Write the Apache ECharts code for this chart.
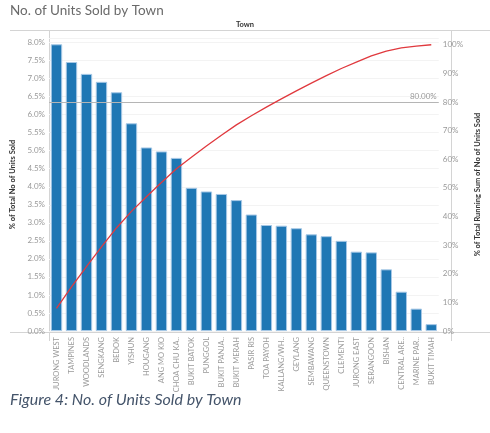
<!DOCTYPE html>
<html>
<head>
<meta charset="utf-8">
<script src="https://cdn.jsdelivr.net/npm/echarts@6/dist/echarts.min.js"></script>
<style>html,body{margin:0;padding:0;background:#fff}#c{width:490px;height:433px}</style>
</head>
<body>
<div id="c"></div>
<script>
var towns = ["JURONG WEST","TAMPINES","WOODLANDS","SENGKANG","BEDOK","YISHUN","HOUGANG","ANG MO KIO","CHOA CHU KA..","BUKIT BATOK","PUNGGOL","BUKIT PANJA..","BUKIT MERAH","PASIR RIS","TOA PAYOH","KALLANG/WH..","GEYLANG","SEMBAWANG","QUEENSTOWN","CLEMENTI","JURONG EAST","SERANGOON","BISHAN","CENTRAL ARE..","MARINE PAR..","BUKIT TIMAH"];
var pctOfTotal = [7.95,7.46,7.13,6.91,6.62,5.76,5.09,4.98,4.80,3.97,3.87,3.80,3.63,3.23,2.94,2.92,2.85,2.68,2.63,2.50,2.20,2.18,1.71,1.09,0.62,0.19];
var runningPct = [7.9,15.4,22.5,29.4,36.0,41.8,46.9,51.9,56.7,60.7,64.6,68.4,72.0,75.2,78.2,81.1,83.9,86.6,89.2,91.7,93.9,96.1,97.8,98.9,99.5,100.0];
var leftTicks = ["0.0%","0.5%","1.0%","1.5%","2.0%","2.5%","3.0%","3.5%","4.0%","4.5%","5.0%","5.5%","6.0%","6.5%","7.0%","7.5%","8.0%"];
var rightTicks = ["0%","10%","20%","30%","40%","50%","60%","70%","80%","90%","100%"];
var refValue = 80;

var chart = echarts.init(document.getElementById('c'), null, {renderer:'canvas'});
var fontF = 'Lato, "Open Sans", sans-serif';
chart.setOption({
  animation:false,
  backgroundColor:'#fff',
  textStyle:{fontFamily:fontF},
  grid:{left:49, right:39, top:38, bottom:102, containLabel:false},
  graphic:[
    {type:'text', left:10, top:4, style:{text:'No. of Units Sold by Town', font:'13.5px Lato, sans-serif', fill:'#6a6a6a'}},
    {type:'text', left:'center', top:21, style:{text:'Town', font:'bold 7.5px Lato, sans-serif', fill:'#333', x:6}},
    {type:'line', shape:{x1:10,y1:30.5,x2:490,y2:30.5}, style:{stroke:'#d4d4d4', lineWidth:1}},
    {type:'line', shape:{x1:49.5,y1:30,x2:49.5,y2:341}, style:{stroke:'#d4d4d4', lineWidth:1}},
    {type:'line', shape:{x1:451.5,y1:30,x2:451.5,y2:341}, style:{stroke:'#d4d4d4', lineWidth:1}},
    {type:'line', shape:{x1:10,y1:332.5,x2:490,y2:332.5}, style:{stroke:'#d4d4d4', lineWidth:1}},
    {type:'text', left:10, top:392, style:{text:'Figure 4: No. of Units Sold by Town', font:'italic 16px Lato, sans-serif', fill:'#44546a'}}
  ],
  xAxis:{
    type:'category', data:towns,
    axisLine:{show:false}, axisTick:{show:false},
    axisLabel:{rotate:90, fontSize:7.5, color:'#999', margin:6, interval:0}
  },
  yAxis:[
    {type:'value', min:0, max:8.125, interval:0.5, position:'left',
     name:'% of Total No of Units Sold', nameLocation:'middle', nameGap:30, nameRotate:90,
     nameTextStyle:{fontSize:7.5, fontWeight:'bold', color:'#333'},
     axisLine:{show:false}, axisTick:{show:false},
     axisLabel:{showMaxLabel:false, fontSize:8, color:'#999', margin:4,
       formatter:function(v){var i=Math.round(v/0.5); return leftTicks[i]||'';}},
     splitLine:{show:true, lineStyle:{color:'#f3f3f3', width:1}}},
    {type:'value', min:0, max:102.36, interval:10, position:'right',
     name:'% of Total Running Sum of No of Units Sold', nameLocation:'middle', nameGap:30, nameRotate:90,
     nameTextStyle:{fontSize:7.5, fontWeight:'bold', color:'#333'},
     axisLine:{show:false}, axisTick:{show:false},
     axisLabel:{showMaxLabel:false, fontSize:8, color:'#999', margin:4,
       formatter:function(v){var i=Math.round(v/10); return rightTicks[i]||'';}},
     splitLine:{show:false}}
  ],
  series:[
    {type:'bar', data:pctOfTotal, yAxisIndex:0, barCategoryGap:'24%',
     itemStyle:{color:'#1f77b4', borderColor:'#a6c8e6', borderWidth:1}},
    {type:'line', data:runningPct, yAxisIndex:1, symbol:'none', smooth:false,
     lineStyle:{color:'#e0393e', width:1.3}, z:5,
     markLine:{silent:true, symbol:'none',
       lineStyle:{color:'#b5b5b5', type:'solid', width:1},
       label:{position:'insideEndTop', formatter:function(){return refValue.toFixed(2)+'%';}, fontSize:8, color:'#999', distance:[2,2]},
       data:[{yAxis:refValue}]}}
  ]
});
</script>
</body>
</html>
